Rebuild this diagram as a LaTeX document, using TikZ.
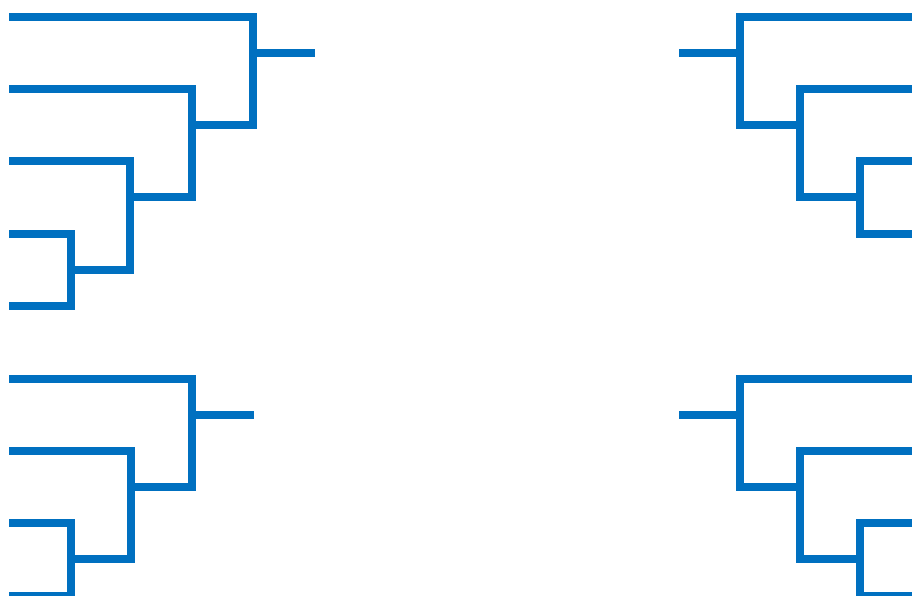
\documentclass[tikz,border=0pt]{standalone}
\definecolor{brk}{HTML}{0070C0}
\begin{document}
\begin{tikzpicture}[x=1pt,y=-1pt,
  bracket/.style={draw=brk,line width=8pt,line join=miter,line cap=butt}]
\useasboundingbox (0,0) rectangle (912,596);
\clip (0,0) rectangle (912,596);
% top-left
\draw[bracket] (9,17) -| (253,125) -- (192,125);
\draw[bracket] (9,89) -| (192,197) -- (130,197);
\draw[bracket] (9,161) -| (130,270) -- (71,270);
\draw[bracket] (9,234) -| (71,306) -- (9,306);
\draw[bracket] (253,53) -- (315,53);
% bottom-left
\draw[bracket] (9,379) -| (192,487) -- (131,487);
\draw[bracket] (9,451) -| (131,559) -- (71,559);
\draw[bracket] (9,523) -| (71,596) -- (9,596);
\draw[bracket] (192,415) -- (254,415);
% top-right
\draw[bracket] (679,53) -- (740,53);
\draw[bracket] (912,17) -| (740,125) -- (800,125);
\draw[bracket] (912,89) -| (800,197) -- (860,197);
\draw[bracket] (912,161) -| (860,234) -- (912,234);
% bottom-right
\draw[bracket] (679,415) -- (740,415);
\draw[bracket] (912,379) -| (740,487) -- (800,487);
\draw[bracket] (912,451) -| (800,559) -- (860,559);
\draw[bracket] (912,523) -| (860,596) -- (912,596);
\end{tikzpicture}
\end{document}
